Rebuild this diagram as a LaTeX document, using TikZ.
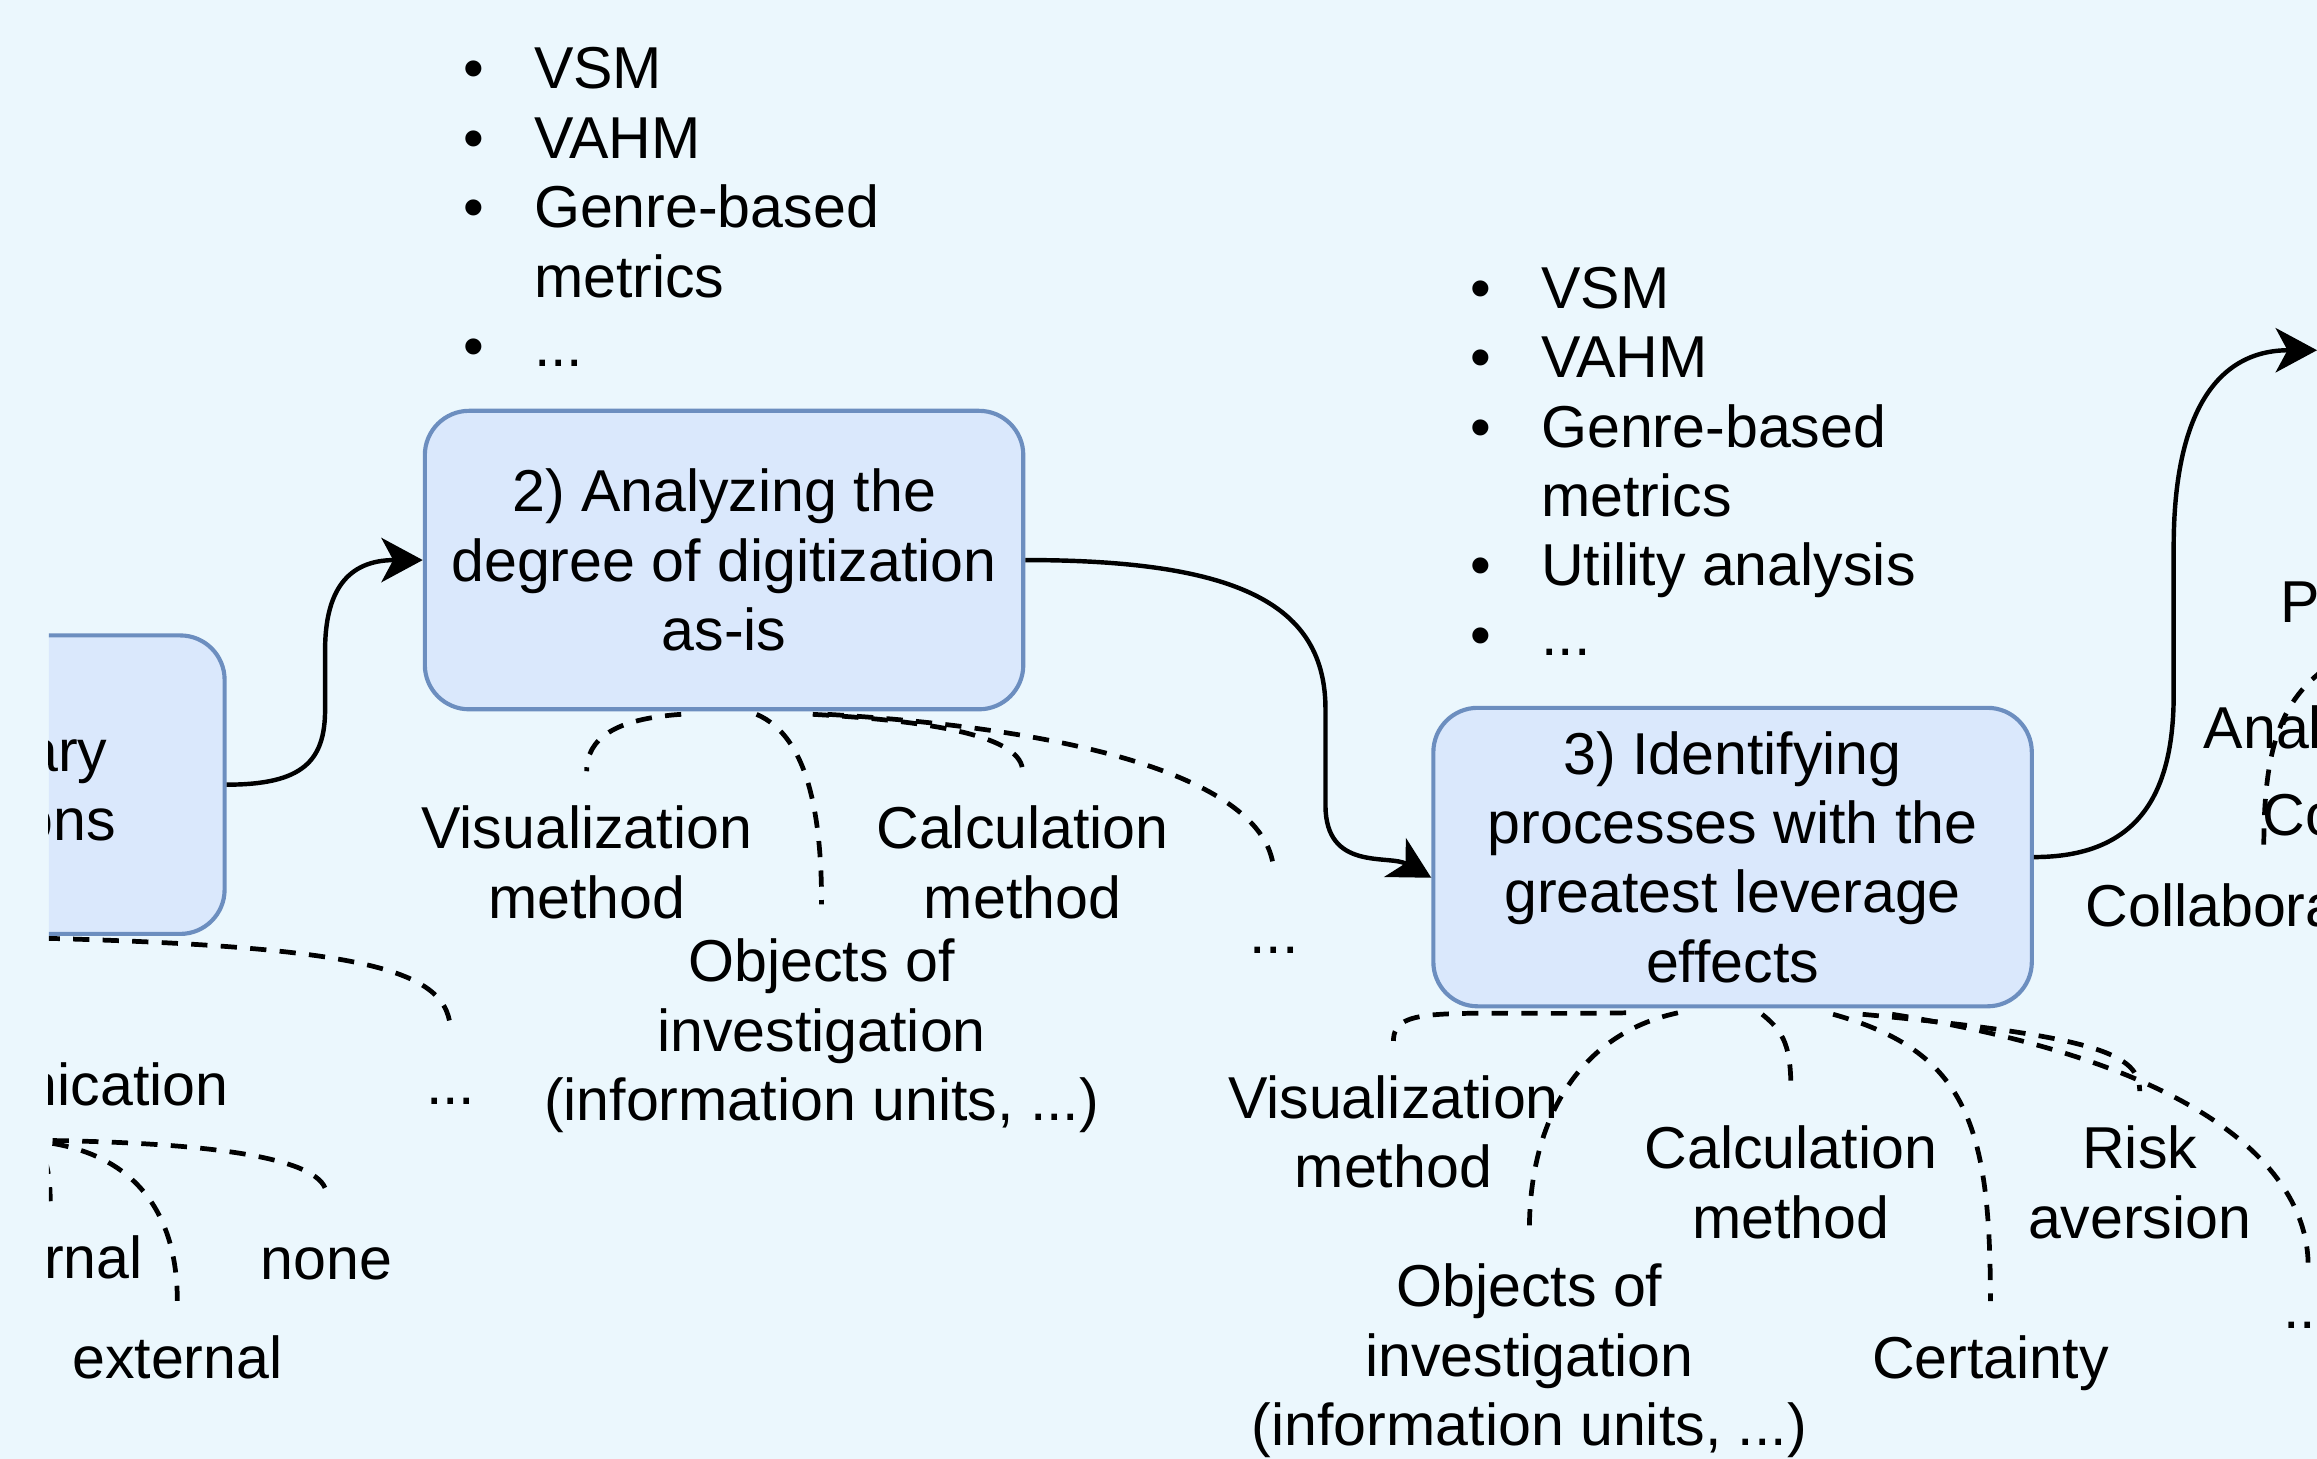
\documentclass[tikz,border=0pt]{standalone}
\usepackage{fontspec}
\setmainfont{Liberation Sans}
\usetikzlibrary{arrows.meta,calc}
\definecolor{bgblue}{HTML}{EBF7FD}
\definecolor{boxfill}{HTML}{DAE8FC}
\definecolor{boxline}{HTML}{6C8EBF}

\begin{document}
\begin{tikzpicture}[x=0.5pt, y=-0.5pt,
    every node/.style={font=\fontsize{20}{23.5}\selectfont},
    stepbox/.style={draw=boxline, fill=boxfill, line width=1.4pt, rounded corners=15pt,
      minimum width=202.5pt, minimum height=101pt, inner sep=0pt, align=center},
    lbl/.style={inner xsep=0pt, inner ysep=11.5pt, align=center},
    link/.style={line width=1.5pt, -{Stealth[length=14pt, width=15pt, inset=4pt]}},
    sub/.style={line width=1.6pt, dash pattern=on 5.5pt off 4.5pt}]
  \useasboundingbox (0,0) rectangle (1568,987);
  \fill[bgblue] (0,0) rectangle (1568,987);
  \begin{scope}
    \clip (33,0) rectangle (1568,987);

    \node[stepbox] (b1) at (-50.5,531) {1) Preliminary\\considerations};
    \node[stepbox] (b2) at (490,379) {2) Analyzing the\\degree of digitization\\as-is};
    \node[stepbox] (b3) at (1172.5,580) {3) Identifying\\processes with the\\greatest leverage\\effects};
    \coordinate (b4in) at (1568,237);

    \node[anchor=base west, inner sep=0pt] (m2) at (313,60)
      {\begin{tabular}[t]{@{}l@{\hspace{17pt}}l@{}}
        • & VSM\\ • & VAHM\\ • & Genre-based\\ & metrics\\ • & ...
      \end{tabular}};
    \node[anchor=base west, inner sep=0pt] (m3) at (994.6,208.5)
      {\begin{tabular}[t]{@{}l@{\hspace{17pt}}l@{}}
        • & VSM\\ • & VAHM\\ • & Genre-based\\ & metrics\\ • & Utility analysis\\ • & ...
      \end{tabular}};

    \draw[link] (b1.east) .. controls (205,531) and (220,515) .. (220,480)
      -- (220,440) .. controls (220,400) and (235,379) .. (b2.west);
    \draw[link] (b2.east) .. controls (840,379) and (897,410) .. (897,480)
      -- (897,545) .. controls (897,590) and (940,578) .. ($(b3.west)+(0,14)$);
    \draw[link] (b3.east) .. controls (1445,580) and (1471,540) .. (1471,470)
      -- (1471,370) .. controls (1471,280) and (1500,237) .. (b4in);

    \node[lbl, anchor=east] (b1comm) at (155,733.5) {Communication};
    \node[lbl] (b1etc) at (305,745) {...};
    \node[lbl, anchor=east] (b1int) at (97,851) {internal};
    \node[lbl] (b1none) at (221,855) {none};
    \node[lbl] (b1ext) at (120,918.4) {external};
    \draw[sub] (b1.south) .. controls +(300,4) and +(0,-45) .. ($(b1etc.north)+(0,-20)$);
    \draw[sub] (b1comm.south) .. controls +(15,1) and +(0,-20) .. ($(b1int.north)+(3,0)$);
    \draw[sub] (b1comm.south) .. controls +(134,1) and +(0,-24) .. ($(b1none.north)+(0,-12)$);
    \draw[sub] (b1comm.south) .. controls +(75,4) and +(0,-60) .. (b1ext.north);

    \node[lbl] (b2vis) at (397,583.5) {Visualization\\method};
    \node[lbl] (b2calc) at (692,583.5) {Calculation\\method};
    \node[lbl] (b2obj) at (556,701) {Objects of\\investigation\\(information units, ...)};
    \node[lbl] (b2etc) at (862,643) {...};
    \draw[sub] ($(b2.south)+(-29,2)$) .. controls +(-45,3) and +(0,-22) .. (b2vis.north);
    \draw[sub] ($(b2.south)+(22,2)$) .. controls +(35,15) and +(0,-60) .. (b2obj.north);
    \draw[sub] ($(b2.south)+(60,2)$) .. controls +(90,5) and +(0,-22) .. (b2calc.north);
    \draw[sub] ($(b2.south)+(70,2)$) .. controls +(200,12) and +(0,-55) .. ($(b2etc.north)+(0,-26)$);

    \node[lbl] (b3vis) at (943,766) {Visualization\\method};
    \node[lbl] (b3calc) at (1212,800) {Calculation\\method};
    \node[lbl] (b3risk) at (1448,800) {Risk\\aversion};
    \node[lbl] (b3obj) at (1035,921) {Objects of\\investigation\\(information units, ...)};
    \node[lbl] (b3cert) at (1347,922.6) {Certainty};
    \node[lbl] (b3etc) at (1562,897) {...};
    \draw[sub] ($(b3.south)+(-72,3)$) .. controls +(-120,2) and +(0,-25) .. (b3vis.north);
    \draw[sub] ($(b3.south)+(-37,3)$) .. controls +(-70,15) and +(0,-70) .. (b3obj.north);
    \draw[sub] ($(b3.south)+(20,4)$) .. controls +(15,12) and +(0,-30) .. (b3calc.north);
    \draw[sub] ($(b3.south)+(68,4)$) .. controls +(90,25) and +(0,-120) .. (b3cert.north);
    \draw[sub] ($(b3.south)+(88,4)$) .. controls +(160,15) and +(0,-25) .. (b3risk.north);
    \draw[sub] ($(b3.south)+(108,4)$) .. controls +(220,35) and +(0,-60) .. ($(b3etc.north)+(0,-15)$);

    \node[lbl, anchor=west] (b4p) at (1543,408) {Process};
    \node[lbl, anchor=west] (b4ana) at (1491,496) {Analysis};
    \node[lbl, anchor=west] (b4co) at (1531,551.4) {Costs};
    \node[lbl, anchor=west] (b4col) at (1411,612.4) {Collaboration};
    \coordinate (b4a) at (1590,442);
    \coordinate (b4b) at (1532,572);
    \draw[sub] (b4a) .. controls (1548,465) and (1532,495) .. (b4b);
  \end{scope}
\end{tikzpicture}
\end{document}
